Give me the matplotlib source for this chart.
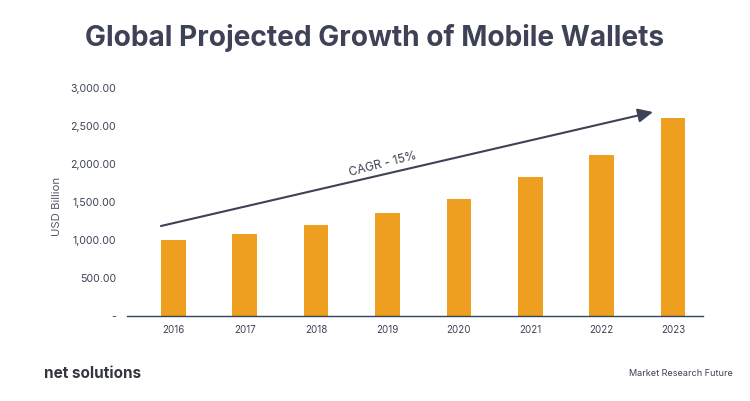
import matplotlib
matplotlib.use("Agg")
import matplotlib.pyplot as plt

years = ["2016", "2017", "2018", "2019", "2020", "2021", "2022", "2023"]
values = [1000, 1085, 1200, 1350, 1540, 1830, 2125, 2600]
y_ticks = [0, 500, 1000, 1500, 2000, 2500, 3000]
y_labels = ["-", "500.00", "1,000.00", "1,500.00", "2,000.00", "2,500.00", "3,000.00"]

dark = "#3d4256"
orange = "#ee9f1f"

plt.rcParams["font.family"] = ["Inter", "DejaVu Sans"]

W, H = 750, 401
fig = plt.figure(figsize=(7.5, 4.01), dpi=100)
# axes box in pixels: left 127, right 703, y=0 at 316, y=3000 at 88
ax = fig.add_axes([127 / W, 1 - 316 / H, 576 / W, 228 / H])

ax.bar(range(len(years)), values, width=0.345, color=orange)
ax.set_xlim(-0.65, 7.42)
ax.set_ylim(0, 3000)

for side in ["top", "right", "left"]:
    ax.spines[side].set_visible(False)
ax.spines["bottom"].set_color("#2f4560")
ax.spines["bottom"].set_linewidth(1)

ax.set_xticks(range(len(years)))
ax.set_xticklabels(years, fontsize=7, color=dark)
ax.set_yticks(y_ticks)
ax.set_yticklabels(y_labels, fontsize=7.6, color=dark)
ax.tick_params(axis="both", length=0)
ax.tick_params(axis="x", pad=6.5)
ax.tick_params(axis="y", pad=8)
ax.set_ylabel("USD Billion", fontsize=8.2, color="#555a68", labelpad=6, y=0.48)

# CAGR arrow
ax.annotate("", xy=(6.72, 2684), xytext=(-0.175, 1184),
            arrowprops=dict(arrowstyle="-|>,head_length=0.9,head_width=0.42",
                            color=dark, lw=1.5, shrinkA=0, shrinkB=0))
ax.text(2.93, 1998, "CAGR - 15%", fontsize=8.6, color=dark, rotation=14.5,
        ha="center", va="center", rotation_mode="anchor")

fig.text(375 / W, 1 - 38 / H, "Global Projected Growth of Mobile Wallets",
         fontsize=20.2, fontweight="bold", color=dark, ha="center", va="center")
fig.text(44 / W, 1 - 374 / H, "net solutions", fontsize=11, fontweight="bold",
         color="#33363f", ha="left", va="center")
fig.text(733 / W, 1 - 374 / H, "Market Research Future", fontsize=6.55,
         color=dark, ha="right", va="center")

fig.savefig("out.png", dpi=100)
